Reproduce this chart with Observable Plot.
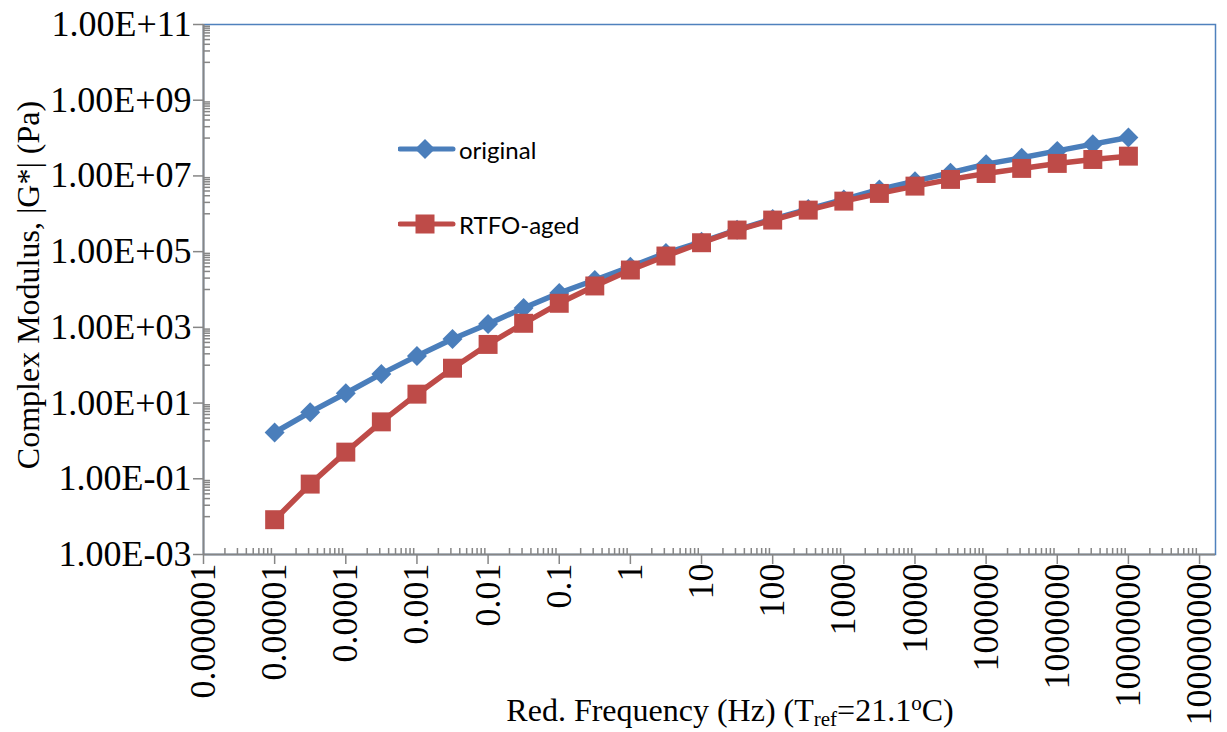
<!DOCTYPE html>
<html>
<head>
<meta charset="utf-8">
<script src="https://cdn.jsdelivr.net/npm/d3@7"></script>
<script src="https://cdn.jsdelivr.net/npm/@observablehq/plot@0.6"></script>
<style>
  body { margin: 0; background: #fff; }
  #wrap { position: relative; width: 1227px; height: 732px; overflow: hidden; }
  .serif { font-family: "Liberation Serif", "Times New Roman", serif; color: #000; }
  .ttl { position: absolute; white-space: nowrap; font-size: 32px; line-height: 1; }
  .ttl sub { font-size: 21px; vertical-align: -5px; line-height: 0; }
  .ttl sup { font-size: 21px; vertical-align: 11px; line-height: 0; }
  .leg { position: absolute; font-family: Lato, "Open Sans", sans-serif; font-size: 24px; display: flex; align-items: center; color: #000; }
</style>
</head>
<body>
<div id="wrap"></div>
<script>
// ---- data ----
const frequency = [0.00001, 0.0000316, 0.0001, 0.000316, 0.001, 0.00316, 0.01, 0.0316, 0.1, 0.316,
  1, 3.16, 10, 31.6, 100, 316, 1000, 3160, 10000, 31600, 100000, 316000, 1000000, 3160000, 10000000];
const original = [1.67, 5.75, 18.2, 58.9, 176, 494, 1230, 3250, 8090, 17800,
  40000, 91900, 182000, 378000, 724000, 1330000, 2400000, 4400000, 7290000, 12100000,
  20500000, 30100000, 45900000, 69000000, 104000000];
const rtfoAged = [0.0083, 0.0724, 0.506, 3.19, 17.2, 83.4, 354, 1280, 4320, 12400,
  32700, 76600, 172000, 372000, 682000, 1250000, 2160000, 3450000, 5380000, 8090000,
  11600000, 15800000, 21400000, 27200000, 33300000];
const seriesNames = ["original", "RTFO-aged"];
const seriesColors = ["#4A7EBB", "#BE4B48"];

const xTickValues = [1e-6, 1e-5, 1e-4, 1e-3, 1e-2, 1e-1, 1, 10, 100, 1000, 1e4, 1e5, 1e6, 1e7, 1e8];
const xTickLabels = ["0.000001", "0.00001", "0.0001", "0.001", "0.01", "0.1", "1", "10", "100", "1000",
  "10000", "100000", "1000000", "10000000", "100000000"];
const yTickValues = [1e-3, 1e-1, 1e1, 1e3, 1e5, 1e7, 1e9, 1e11];
const yTickLabels = ["1.00E-03", "1.00E-01", "1.00E+01", "1.00E+03", "1.00E+05", "1.00E+07", "1.00E+09", "1.00E+11"];

// minor ticks (Excel style)
const minorX = [];
for (let e = -6; e <= 7; e++) for (let m = 2; m <= 9; m++) minorX.push(m * Math.pow(10, e));
const minorY = [];
for (let e = -2; e <= 10; e += 2) for (let m = 1; m <= 9; m++) minorY.push(m * Math.pow(10, e));

const rowsOriginal = frequency.map((f, i) => ({f, g: original[i]}));
const rowsAged = frequency.map((f, i) => ({f, g: rtfoAged[i]}));

const axisGray = "#868686";

const chart = Plot.plot({
  width: 1227,
  height: 732,
  marginLeft: 203,
  marginRight: 12,
  marginTop: 24,
  marginBottom: 178,
  x: {type: "log", domain: [1e-6, Math.pow(10, 8.224)]},
  y: {type: "log", domain: [1e-3, 1e11]},
  style: {fontFamily: '"Liberation Serif", "Times New Roman", serif', fontSize: "36px", color: "#000", background: "#fff", overflow: "visible"},
  marks: [
    Plot.frame({stroke: "#4F81BD", strokeWidth: 1.5}),
    // minor ticks (inside)
    Plot.axisX({ticks: minorX, tickSize: 6, dy: -6, text: null, label: null, stroke: axisGray, strokeWidth: 1.5}),
    Plot.axisY({ticks: minorY, tickSize: 7, dx: 7, text: null, label: null, stroke: axisGray, strokeWidth: 1.5}),
    // major ticks (outside)
    Plot.axisX({ticks: xTickValues, tickSize: 10, text: null, label: null, stroke: axisGray, strokeWidth: 1.5}),
    Plot.axisY({ticks: yTickValues, tickSize: 10, text: null, label: null, stroke: axisGray, strokeWidth: 1.5}),
    // labels
    Plot.axisX({ticks: xTickValues, tickSize: 0, tickPadding: 9, tickRotate: -90, label: null, fontSize: 36,
      tickFormat: d => xTickLabels[xTickValues.indexOf(d)]}),
    Plot.axisY({ticks: yTickValues, tickSize: 0, tickPadding: 12, label: null, fontSize: 36,
      tickFormat: d => yTickLabels[yTickValues.indexOf(d)]}),
    // axis lines
    Plot.ruleY([1e-3], {stroke: axisGray, strokeWidth: 2}),
    Plot.ruleX([1e-6], {stroke: axisGray, strokeWidth: 2}),
    // series
    Plot.line(rowsOriginal, {x: "f", y: "g", stroke: seriesColors[0], strokeWidth: 5.5}),
    Plot.dot(rowsOriginal, {x: "f", y: "g", symbol: "diamond2", r: 9, fill: seriesColors[0], stroke: null}),
    Plot.line(rowsAged, {x: "f", y: "g", stroke: seriesColors[1], strokeWidth: 5.5}),
    Plot.dot(rowsAged, {x: "f", y: "g", symbol: "square", r: 10.7, fill: seriesColors[1], stroke: null})
  ]
});

const wrap = document.getElementById("wrap");
wrap.appendChild(chart);

// axis titles
const xt = document.createElement("div");
xt.className = "ttl serif";
xt.style.left = "730px";
xt.style.top = "694px";
xt.style.transform = "translateX(-50%)";
xt.innerHTML = "Red. Frequency (Hz) (T<sub>ref</sub>=21.1<sup>o</sup>C)";
wrap.appendChild(xt);

const yt = document.createElement("div");
yt.className = "ttl serif";
yt.style.left = "28px";
yt.style.top = "285px";
yt.style.transform = "translate(-50%,-50%) rotate(-90deg)";
yt.textContent = "Complex Modulus, |G*| (Pa)";
wrap.appendChild(yt);

// legend
function legendItem(name, color, shape, top) {
  const d = document.createElement("div");
  d.className = "leg";
  d.style.left = "398px";
  d.style.top = (top - 15) + "px";
  const marker = shape === "diamond"
    ? `<path d="M27,5 L37,15 L27,25 L17,15 Z" fill="${color}"/>`
    : `<rect x="17.5" y="5.5" width="19" height="19" fill="${color}"/>`;
  d.innerHTML = `<svg width="58" height="30" style="display:block"><line x1="2" y1="15" x2="55" y2="15" stroke="${color}" stroke-width="5" stroke-linecap="round"/>${marker}</svg><span style="margin-left:3px">${name}</span>`;
  wrap.appendChild(d);
}
legendItem(seriesNames[0], seriesColors[0], "diamond", 149);
legendItem(seriesNames[1], seriesColors[1], "square", 224);
</script>
</body>
</html>
